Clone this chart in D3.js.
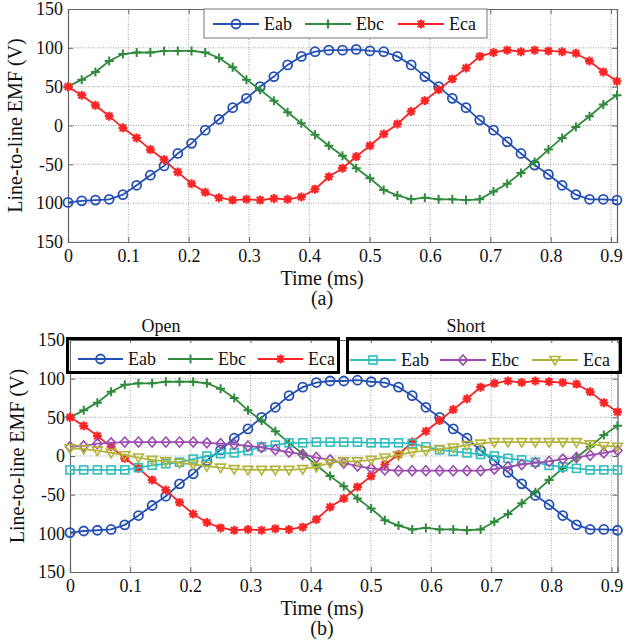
<!DOCTYPE html>
<html>
<head>
<meta charset="utf-8">
<script src="https://cdn.jsdelivr.net/npm/d3@7"></script>
<style>
  body { margin: 0; background: #fff; }
  svg { display: block; }
</style>
</head>
<body>
<svg id="chart" width="644" height="644"></svg>
<script>
// time axis (ms)
const time = [0, 0.0228, 0.0455, 0.0683, 0.091, 0.1138, 0.1365, 0.1593, 0.182, 0.2048,
  0.2275, 0.2503, 0.273, 0.2958, 0.3185, 0.3413, 0.364, 0.3868, 0.4095, 0.4323,
  0.455, 0.4778, 0.5005, 0.5233, 0.546, 0.5688, 0.5915, 0.6143, 0.637, 0.6598,
  0.6825, 0.7053, 0.728, 0.7508, 0.7735, 0.7963, 0.819, 0.8418, 0.8645, 0.8873, 0.91];

// open circuit EMF (V)
const eabOpen = [-99, -97, -96, -95, -89, -77, -64, -52, -36, -23, -6, 8, 23, 35, 50, 63, 78, 89, 95, 97,
  97, 98, 96, 95, 89, 78, 63, 50, 35, 23, 7, -6, -21, -36, -51, -63, -77, -89, -95, -95, -96];
const ebcOpen = [50, 59, 69, 83, 92, 94, 94, 96, 96, 96, 94, 87, 75, 59, 46, 32, 17, 3, -12, -26,
  -39, -55, -68, -83, -90, -95, -93, -95, -95, -96, -95, -85, -75, -61, -47, -31, -16, -2, 12, 27, 39];
const ecaOpen = [50, 39, 26, 12, -3, -16, -31, -44, -60, -75, -86, -93, -96, -95, -96, -94, -95, -92, -82, -66,
  -55, -40, -26, -11, 2, 18, 32, 46, 60, 74, 89, 94, 97, 95, 97, 96, 95, 93, 83, 69, 57];

// short circuit EMF (V)
const eabShort = [-18, -18, -18, -18, -18, -15, -12, -10, -8, -4, 0, 3, 4, 7, 12, 14, 17, 17, 18, 18,
  18, 18, 17, 17, 17, 16, 12, 8, 6, 4, 2, 0, -3, -5, -8, -12, -14, -16, -18, -18, -18];
const ebcShort = [12, 13, 16, 17, 18, 18, 18, 18, 18, 18, 17, 16, 15, 13, 11, 8, 5, 2, -2, -5,
  -9, -13, -16, -18, -19, -19, -19, -19, -19, -19, -19, -17, -14, -11, -9, -7, -4, -2, 1, 4, 7];
const ecaShort = [10, 9, 7, 4, 1, -2, -5, -7, -9, -11, -13, -15, -17, -18, -18, -18, -18, -17, -14, -9,
  -7, -7, -5, -2, 1, 5, 7, 9, 11, 14, 16, 18, 18, 18, 18, 18, 18, 18, 15, 13, 12];

const yTicks = [150, 100, 50, 0, -50, -100, -150];
const yTickLabels = ["150", "100", "50", "0", "-50", "100", "150"];
const xTicks = [0, 0.1, 0.2, 0.3, 0.4, 0.5, 0.6, 0.7, 0.8, 0.9];
const xTickLabels = ["0", "0.1", "0.2", "0.3", "0.4", "0.5", "0.6", "0.7", "0.8", "0.9"];
const seriesNames = ["Eab", "Ebc", "Eca"];

const colors = {
  eab: "#2450b4", ebc: "#2f8a3c", eca: "#fa2424",
  eabS: "#2fbdbd", ebcS: "#9c4cb0", ecaS: "#b4b43a"
};

const FONT = "Liberation Serif, Times New Roman, serif";
const svg = d3.select("#chart");
svg.append("rect").attr("width", 644).attr("height", 644).attr("fill", "#fff");

// marker painters
function marker(g, type, color) {
  if (type === "circle") {
    g.append("circle").attr("r", 4.5).attr("fill", "none").attr("stroke", color).attr("stroke-width", 1.8);
  } else if (type === "plus") {
    g.append("path").attr("d", "M-4.5,0H4.5M0,-4.5V4.5").attr("stroke", color).attr("stroke-width", 2);
  } else if (type === "star") {
    g.append("path").attr("d", "M-4.5,0H4.5M0,-4.5V4.5M-3.3,-3.3L3.3,3.3M-3.3,3.3L3.3,-3.3")
      .attr("stroke", color).attr("stroke-width", 2.2);
  } else if (type === "square") {
    g.append("rect").attr("x", -4).attr("y", -4).attr("width", 8).attr("height", 8)
      .attr("fill", "none").attr("stroke", color).attr("stroke-width", 1.6);
  } else if (type === "diamond") {
    g.append("path").attr("d", "M0,-5L4.5,0L0,5L-4.5,0Z").attr("fill", "none").attr("stroke", color).attr("stroke-width", 1.6);
  } else if (type === "tri") {
    g.append("path").attr("d", "M-5,-3.5L5,-3.5L0,5Z").attr("fill", "none").attr("stroke", color).attr("stroke-width", 1.6);
  }
}

function drawPanel(cfg) {
  const x = d3.scaleLinear().domain([0, 0.91]).range([cfg.left, cfg.right]);
  const y = d3.scaleLinear().domain([-150, 150]).range([cfg.bottom, cfg.top]);
  const g = svg.append("g");

  // grid
  g.append("g").selectAll("line").data(xTicks.slice(1)).enter().append("line")
    .attr("x1", d => x(d)).attr("x2", d => x(d)).attr("y1", cfg.top).attr("y2", cfg.bottom)
    .attr("stroke", "#8a8a8a").attr("stroke-width", 0.8).attr("stroke-dasharray", "1,1.5");
  g.append("g").selectAll("line").data(yTicks.slice(1, -1)).enter().append("line")
    .attr("x1", cfg.left).attr("x2", cfg.right).attr("y1", d => y(d)).attr("y2", d => y(d))
    .attr("stroke", "#8a8a8a").attr("stroke-width", 0.8).attr("stroke-dasharray", "1,1.5");

  // axes
  const xAxis = g.append("g").attr("transform", `translate(0,${cfg.bottom})`)
    .call(d3.axisBottom(x).tickValues(xTicks).tickSize(-5).tickPadding(7).tickFormat((d, i) => xTickLabels[i]));
  const xTop = g.append("g").attr("transform", `translate(0,${cfg.top})`)
    .call(d3.axisTop(x).tickValues(xTicks).tickSize(-5).tickFormat(""));
  const yAxis = g.append("g").attr("transform", `translate(${cfg.left},0)`)
    .call(d3.axisLeft(y).tickValues(yTicks).tickSize(-5).tickPadding(5).tickFormat((d, i) => yTickLabels[i]));
  const yRight = g.append("g").attr("transform", `translate(${cfg.right},0)`)
    .call(d3.axisRight(y).tickValues(yTicks).tickSize(-5).tickFormat(""));
  [xAxis, xTop, yAxis, yRight].forEach(a => {
    a.select(".domain").attr("stroke", "#666").attr("stroke-width", 1.2);
    a.selectAll(".tick line").attr("stroke", "#666");
    a.selectAll("text").attr("font-family", FONT).attr("font-size", 18).attr("fill", "#111");
  });

  // series
  cfg.series.forEach(s => {
    const pts = time.map((t, i) => [t, s.values[i]]);
    const line = d3.line().x(d => x(d[0])).y(d => y(d[1]));
    g.append("path").datum(pts).attr("d", line)
      .attr("fill", "none").attr("stroke", s.color).attr("stroke-width", 1.8);
    g.append("g").selectAll("g").data(pts).enter().append("g")
      .attr("transform", d => `translate(${x(d[0])},${y(d[1])})`)
      .each(function () { marker(d3.select(this), s.marker, s.color); });
  });

  // labels
  g.append("text").attr("transform", `translate(${cfg.left - 46},${(cfg.top + cfg.bottom) / 2})rotate(-90)`)
    .attr("text-anchor", "middle").attr("font-family", FONT).attr("font-size", 20).attr("fill", "#111")
    .text("Line-to-line EMF (V)");
  g.append("text").attr("x", 322).attr("y", cfg.bottom + 43)
    .attr("text-anchor", "middle").attr("font-family", FONT).attr("font-size", 20).attr("fill", "#111")
    .text("Time (ms)");
  g.append("text").attr("x", 322).attr("y", cfg.bottom + 63)
    .attr("text-anchor", "middle").attr("font-family", FONT).attr("font-size", 20).attr("fill", "#111")
    .text(cfg.tag);
  return g;
}

function legend(box, entries, opts) {
  const lg = svg.append("g");
  lg.append("rect").attr("x", box.x).attr("y", box.y).attr("width", box.w).attr("height", box.h)
    .attr("fill", "#fff").attr("stroke", opts.innerStroke || "none").attr("stroke-width", 1);
  entries.forEach(e => {
    lg.append("line").attr("x1", e.x).attr("x2", e.x + opts.lineLen).attr("y1", opts.cy).attr("y2", opts.cy)
      .attr("stroke", e.color).attr("stroke-width", 1.8);
    const m = lg.append("g").attr("transform", `translate(${e.x + opts.lineLen / 2},${opts.cy})`);
    marker(m, e.marker, e.color);
    lg.append("text").attr("x", e.x + opts.lineLen + 5).attr("y", opts.cy + 6)
      .attr("font-family", FONT).attr("font-size", 18).attr("fill", "#111").text(e.name);
  });
  if (opts.outer) {
    lg.append("rect").attr("x", opts.outer.x).attr("y", opts.outer.y)
      .attr("width", opts.outer.w).attr("height", opts.outer.h)
      .attr("fill", "none").attr("stroke", "#000").attr("stroke-width", 3);
  }
}

// (a) open circuit
drawPanel({
  left: 68, right: 617, top: 9, bottom: 242, tag: "(a)",
  series: [
    { values: eabOpen, color: colors.eab, marker: "circle" },
    { values: ebcOpen, color: colors.ebc, marker: "plus" },
    { values: ecaOpen, color: colors.eca, marker: "star" }
  ]
});
legend({ x: 204, y: 9, w: 283, h: 29 }, [
  { name: seriesNames[0], color: colors.eab, marker: "circle", x: 213 },
  { name: seriesNames[1], color: colors.ebc, marker: "plus", x: 305 },
  { name: seriesNames[2], color: colors.eca, marker: "star", x: 398 }
], { cy: 24, lineLen: 46, innerStroke: "#777" });

// (b) open vs short
drawPanel({
  left: 70, right: 617.5, top: 340, bottom: 572, tag: "(b)",
  series: [
    { values: eabOpen, color: colors.eab, marker: "circle" },
    { values: ebcOpen, color: colors.ebc, marker: "plus" },
    { values: ecaOpen, color: colors.eca, marker: "star" },
    { values: eabShort, color: colors.eabS, marker: "square" },
    { values: ebcShort, color: colors.ebcS, marker: "diamond" },
    { values: ecaShort, color: colors.ecaS, marker: "tri" }
  ]
});
legend({ x: 71, y: 343, w: 264, h: 27 }, [
  { name: seriesNames[0], color: colors.eab, marker: "circle", x: 78 },
  { name: seriesNames[1], color: colors.ebc, marker: "plus", x: 168 },
  { name: seriesNames[2], color: colors.eca, marker: "star", x: 258 }
], { cy: 359, lineLen: 45, outer: { x: 67.5, y: 338.5, w: 271, h: 34 } });
legend({ x: 350, y: 343, w: 268, h: 27 }, [
  { name: seriesNames[0], color: colors.eabS, marker: "square", x: 350 },
  { name: seriesNames[1], color: colors.ebcS, marker: "diamond", x: 440 },
  { name: seriesNames[2], color: colors.ecaS, marker: "tri", x: 532 }
], { cy: 360, lineLen: 46, outer: { x: 347.5, y: 338.5, w: 273, h: 34 } });

svg.append("text").attr("x", 161).attr("y", 332).attr("text-anchor", "middle")
  .attr("font-family", FONT).attr("font-size", 18).attr("fill", "#111").text("Open");
svg.append("text").attr("x", 466).attr("y", 332).attr("text-anchor", "middle")
  .attr("font-family", FONT).attr("font-size", 18).attr("fill", "#111").text("Short");
</script>
</body>
</html>
